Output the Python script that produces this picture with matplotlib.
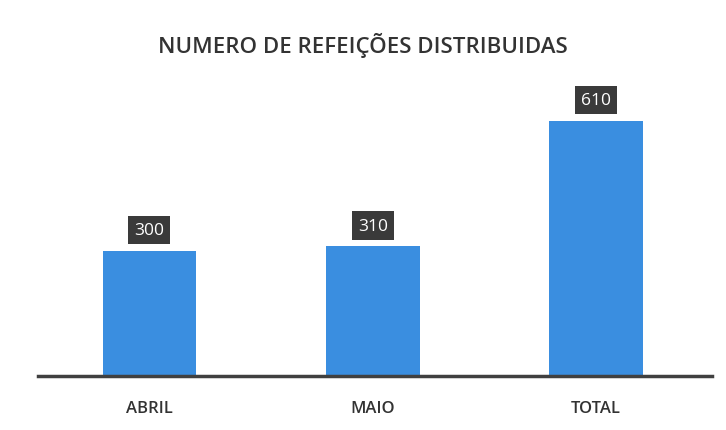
import numpy as np
from matplotlib import pyplot as plt

plt.rcParams['font.family'] = ['Open Sans', 'DejaVu Sans']

categories = ['ABRIL', 'MAIO', 'TOTAL']
values = [300, 310, 610]
labels = ['300', '310', '610']

fig = plt.figure(figsize=(7.26, 4.31), dpi=100)
ax = fig.add_axes([0.052, 0.1253, 0.929, 0.679])

x = np.arange(len(categories))
ax.bar(x, values, width=0.42, color='#3a8ee0', zorder=2)

for xi, v, lab in zip(x, values, labels):
    ax.annotate(lab, (xi, v), xytext=(0, 15), textcoords='offset points',
                ha='center', va='center', color='white', fontsize=12.5,
                bbox=dict(boxstyle='square,pad=0.35', fc='#3a3a3a', ec='none'))

ax.set_xlim(-0.5, 2.52)
ax.set_ylim(0, 700)
ax.set_xticks(x)
ax.set_xticklabels(categories, fontsize=12, color='#333333', fontweight='semibold')
ax.tick_params(axis='x', length=0, pad=17)
ax.set_yticks([])
for s in ['top', 'right', 'left']:
    ax.spines[s].set_visible(False)
ax.spines['bottom'].set_color('#404040')
ax.spines['bottom'].set_linewidth(2.5)
ax.spines['bottom'].set_zorder(3)

fig.text(0.5, 0.895, 'NUMERO DE REFEIÇÕES DISTRIBUIDAS', ha='center', va='center',
         fontsize=16, fontweight='semibold', color='#333333')

plt.savefig('out.png', dpi=100)
